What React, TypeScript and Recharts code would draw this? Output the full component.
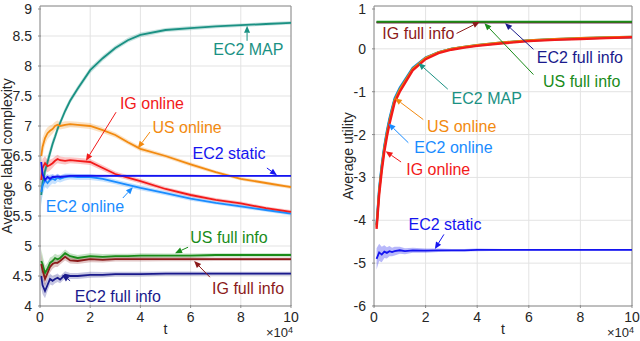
import React from 'react';
import {
  ComposedChart, Line, Area, XAxis, YAxis, CartesianGrid,
  ReferenceLine, ReferenceDot, ReferenceArea,
} from 'recharts';

const FONT = '"Liberation Sans", Arial, Helvetica, sans-serif';

// time, in units of 1e4
const T = [0.05, 0.1, 0.2, 0.3, 0.4, 0.5, 0.6, 0.7, 0.8, 1, 1.2, 1.5, 2, 2.5, 3, 3.5, 4, 5, 6, 7, 8, 9, 10];
const X_TICKS = [0, 2, 4, 6, 8, 10];
const Y_TICKS_L = [4, 4.5, 5, 5.5, 6, 6.5, 7, 7.5, 8, 8.5, 9];
const Y_TICKS_R = [-6, -5, -4, -3, -2, -1, 0, 1];

// left panel: average label complexity
const EC2_MAP_L = [5.85, 6.05, 6.25, 6.4, 6.55, 6.7, 6.82, 6.95, 7.05, 7.25, 7.42, 7.62, 7.93, 8.13, 8.3, 8.43, 8.52, 8.6, 8.63, 8.66, 8.68, 8.7, 8.72];
const US_ONLINE_L = [6.5, 6.65, 6.8, 6.88, 6.92, 6.95, 7.0, 7.02, 7.0, 7.02, 7.03, 7.02, 7.0, 6.93, 6.85, 6.73, 6.62, 6.5, 6.36, 6.23, 6.12, 6.05, 5.98];
const IG_ONLINE_L = [6.1, 6.3, 6.38, 6.33, 6.35, 6.38, 6.42, 6.45, 6.43, 6.42, 6.43, 6.42, 6.4, 6.3, 6.2, 6.14, 6.08, 5.95, 5.85, 5.77, 5.71, 5.63, 5.57];
const EC2_ONLINE_L = [5.9, 6.0, 6.1, 6.05, 6.1, 6.12, 6.1, 6.14, 6.12, 6.15, 6.16, 6.15, 6.15, 6.12, 6.07, 6.02, 5.97, 5.88, 5.79, 5.72, 5.66, 5.6, 5.54];
const EC2_STATIC_L = [6.4, 6.2, 6.1, 6.15, 6.12, 6.15, 6.15, 6.16, 6.15, 6.16, 6.17, 6.17, 6.17, 6.17, 6.17, 6.17, 6.17, 6.17, 6.17, 6.17, 6.17, 6.17, 6.17];
const US_FULL_L = [4.75, 4.7, 4.55, 4.62, 4.72, 4.75, 4.8, 4.78, 4.8, 4.88, 4.83, 4.8, 4.83, 4.82, 4.83, 4.83, 4.84, 4.84, 4.84, 4.85, 4.85, 4.85, 4.85];
const IG_FULL_L = [4.7, 4.6, 4.45, 4.55, 4.65, 4.7, 4.72, 4.72, 4.75, 4.82, 4.76, 4.75, 4.78, 4.77, 4.78, 4.78, 4.78, 4.78, 4.78, 4.78, 4.78, 4.78, 4.78];
const EC2_FULL_L = [4.5, 4.35, 4.25, 4.35, 4.45, 4.42, 4.45, 4.47, 4.44, 4.52, 4.5, 4.5, 4.52, 4.52, 4.53, 4.53, 4.53, 4.54, 4.54, 4.54, 4.54, 4.54, 4.54];
const SPREAD_L = [0.2, 0.15, 0.12, 0.1, 0.09, 0.08, 0.07, 0.07, 0.06, 0.06, 0.05, 0.05, 0.05, 0.045, 0.04, 0.04, 0.04, 0.035, 0.035, 0.03, 0.03, 0.03, 0.03];

// right panel: average utility
const IG_ONLINE_R = [null, -4.2, -3.4, -2.85, -2.4, -2.05, -1.75, -1.5, -1.25, -1.0, -0.8, -0.5, -0.24, -0.1, -0.02, 0.03, 0.07, 0.13, 0.18, 0.21, 0.23, 0.25, 0.27];
const US_ONLINE_R = [null, -4.15, -3.33, -2.78, -2.33, -1.98, -1.69, -1.44, -1.2, -0.95, -0.76, -0.47, -0.21, -0.08, 0.0, 0.05, 0.09, 0.15, 0.2, 0.23, 0.25, 0.27, 0.28];
const EC2_ONLINE_R = [null, -4.1, -3.25, -2.7, -2.26, -1.91, -1.62, -1.38, -1.15, -0.9, -0.72, -0.44, -0.2, -0.08, 0.0, 0.04, 0.08, 0.14, 0.19, 0.22, 0.24, 0.26, 0.27];
const EC2_MAP_R = [null, -4.12, -3.3, -2.74, -2.3, -1.95, -1.66, -1.41, -1.18, -0.93, -0.74, -0.46, -0.21, -0.08, 0.0, 0.05, 0.09, 0.15, 0.2, 0.23, 0.25, 0.27, 0.28];
const US_FULL_R = [null, 0.63, 0.63, 0.63, 0.63, 0.63, 0.63, 0.63, 0.63, 0.63, 0.63, 0.63, 0.63, 0.63, 0.63, 0.63, 0.63, 0.63, 0.63, 0.63, 0.63, 0.63, 0.63];
const IG_FULL_R = [null, 0.62, 0.62, 0.62, 0.62, 0.62, 0.62, 0.62, 0.62, 0.62, 0.62, 0.62, 0.62, 0.62, 0.62, 0.62, 0.62, 0.62, 0.62, 0.62, 0.62, 0.62, 0.62];
const EC2_FULL_R = [null, 0.62, 0.62, 0.62, 0.62, 0.62, 0.62, 0.62, 0.62, 0.62, 0.62, 0.62, 0.62, 0.62, 0.62, 0.62, 0.62, 0.62, 0.62, 0.62, 0.62, 0.62, 0.62];
const EC2_STATIC_R = [null, -4.9, -4.75, -4.8, -4.73, -4.76, -4.72, -4.74, -4.72, -4.7, -4.72, -4.7, -4.71, -4.7, -4.7, -4.7, -4.69, -4.69, -4.69, -4.69, -4.69, -4.69, -4.69];
const SPREAD_R = [null, 0.25, 0.2, 0.18, 0.15, 0.13, 0.12, 0.1, 0.1, 0.08, 0.07, 0.06, 0.05, 0.04, 0.03, 0.03, 0.03, 0.02, 0.02, 0.02, 0.02, 0.02, 0.02];

const C = {
  map: '#1a9183',
  usOn: '#f28a10',
  igOn: '#f21a1a',
  ec2On: '#1a8cff',
  ec2St: '#1414f0',
  usFull: '#1a8c1a',
  igFull: '#8c1a1a',
  ec2Full: '#1a1a8c',
};

// annotations: text position and arrow (from -> tip), in data coords
const NOTES_L = [
  { text: 'EC2 MAP', color: C.map, at: [8.3, 8.27], from: [8.25, 8.42], to: [8.25, 8.67] },
  { text: 'IG online', color: C.igOn, at: [4.46, 7.37], from: [3.03, 7.23], to: [1.83, 6.42] },
  { text: 'US online', color: C.usOn, at: [5.86, 6.98], from: [4.38, 6.9], to: [3.9, 6.63] },
  { text: 'EC2 static', color: C.ec2St, at: [7.53, 6.55], from: [9.04, 6.3], to: [9.44, 6.18] },
  { text: 'EC2 online', color: C.ec2On, at: [1.79, 5.66], from: [3.3, 5.8], to: [3.7, 5.98] },
  { text: 'US full info', color: C.usFull, at: [7.53, 5.15], from: [5.9, 4.98], to: [5.38, 4.88] },
  { text: 'IG full info', color: C.igFull, at: [8.29, 4.3], from: [6.77, 4.48], to: [6.14, 4.75] },
  { text: 'EC2 full info', color: C.ec2Full, at: [3.1, 4.16], from: [1.2, 4.42], to: [0.88, 4.52] },
];

const NOTES_R = [
  { text: 'IG full info', color: C.igFull, at: [1.72, 0.36], from: [3.2, 0.36], to: [4.1, 0.63] },
  { text: 'EC2 full info', color: C.ec2Full, at: [7.98, -0.19], from: [6.18, -0.01], to: [5.08, 0.6] },
  { text: 'US full info', color: C.usFull, at: [8.05, -0.76], from: [6.18, -0.6], to: [4.28, 0.6] },
  { text: 'EC2 MAP', color: C.map, at: [4.37, -1.15], from: [2.86, -0.94], to: [1.72, -0.33] },
  { text: 'US online', color: C.usOn, at: [3.4, -1.81], from: [1.91, -1.65], to: [0.81, -1.15] },
  { text: 'EC2 online', color: C.ec2On, at: [3.08, -2.31], from: [1.33, -2.19], to: [0.56, -1.74] },
  { text: 'IG online', color: C.igOn, at: [2.49, -2.81], from: [1.05, -2.64], to: [0.45, -2.39] },
  { text: 'EC2 static', color: C.ec2St, at: [2.75, -4.09], from: [2.71, -4.33], to: [2.36, -4.67] },
];

const band = (v: number | null, s: number | null) => (v == null || s == null ? null : [v - s, v + s]);

const leftData = T.map((t, i) => ({
  t,
  map: EC2_MAP_L[i], mapB: band(EC2_MAP_L[i], SPREAD_L[i]),
  usOn: US_ONLINE_L[i], usOnB: band(US_ONLINE_L[i], SPREAD_L[i]),
  igOn: IG_ONLINE_L[i], igOnB: band(IG_ONLINE_L[i], SPREAD_L[i]),
  ec2On: EC2_ONLINE_L[i], ec2OnB: band(EC2_ONLINE_L[i], SPREAD_L[i]),
  ec2St: EC2_STATIC_L[i], ec2StB: band(EC2_STATIC_L[i], SPREAD_L[i] * 0.5),
  usFull: US_FULL_L[i], usFullB: band(US_FULL_L[i], SPREAD_L[i]),
  igFull: IG_FULL_L[i], igFullB: band(IG_FULL_L[i], SPREAD_L[i]),
  ec2Full: EC2_FULL_L[i], ec2FullB: band(EC2_FULL_L[i], SPREAD_L[i]),
}));

const rightData = T.map((t, i) => ({
  t,
  map: EC2_MAP_R[i],
  usOn: US_ONLINE_R[i],
  igOn: IG_ONLINE_R[i],
  ec2On: EC2_ONLINE_R[i],
  ec2St: EC2_STATIC_R[i], ec2StB: band(EC2_STATIC_R[i], SPREAD_R[i]),
  usFull: US_FULL_R[i],
  igFull: IG_FULL_R[i],
  ec2Full: EC2_FULL_R[i],
}));

const AXIS = '#8c8c8c';
const TEXT = '#262626';

const XTick = ({ x, y, payload }: any) => (
  <g>
    <line x1={x} x2={x} y1={y} y2={y - 3} stroke={AXIS} />
    <text x={x} y={y + 14} textAnchor="middle" fontSize={14} fill={TEXT} fontFamily={FONT}>
      {payload.value}
    </text>
  </g>
);

const YTick = ({ x, y, payload }: any) => (
  <g>
    <line x1={x} x2={x + 3} y1={y} y2={y} stroke={AXIS} />
    <text x={x - 6} y={y} textAnchor="end" dominantBaseline="central" fontSize={14} fill={TEXT} fontFamily={FONT}>
      {payload.value}
    </text>
  </g>
);

const xLabel = ({ viewBox }: any) => {
  const { x, y, width } = viewBox;
  return (
    <g fontFamily={FONT} fill={TEXT}>
      <text x={x + width / 2} y={y + 28} textAnchor="middle" fontSize={14}>t</text>
      <text x={x + width + 2} y={y + 31} textAnchor="end" fontSize={13}>
        ×10<tspan dy={-4} fontSize={9}>4</tspan>
      </text>
    </g>
  );
};

const yLabel = (title: string, dx: number) => ({ viewBox }: any) => {
  const { x, y, height } = viewBox;
  const cx = x + dx;
  const cy = y + height / 2;
  return (
    <text
      transform={`translate(${cx},${cy}) rotate(-90)`}
      textAnchor="middle"
      dominantBaseline="central"
      fontSize={14}
      fill={TEXT}
      fontFamily={FONT}
    >
      {title}
    </text>
  );
};

const arrowShape = (color: string) => (p: any) => {
  const { x1, y1, x2, y2 } = p;
  const a = Math.atan2(y2 - y1, x2 - x1);
  const L = 7;
  const W = 3;
  const bx = x2 - L * Math.cos(a);
  const by = y2 - L * Math.sin(a);
  const pts = `${x2},${y2} ${bx - W * Math.sin(a)},${by + W * Math.cos(a)} ${bx + W * Math.sin(a)},${by - W * Math.cos(a)}`;
  return (
    <g>
      <line x1={x1} y1={y1} x2={bx} y2={by} stroke={color} strokeWidth={1} />
      <polygon points={pts} fill={color} />
    </g>
  );
};

const textShape = (text: string, color: string) => (p: any) => (
  <text
    x={p.cx}
    y={p.cy}
    textAnchor="middle"
    dominantBaseline="central"
    fontSize={16}
    fill={color}
    fontFamily={FONT}
  >
    {text}
  </text>
);

const renderNotes = (notes: typeof NOTES_L, prefix: string) =>
  notes.flatMap((n, i) => [
    <ReferenceLine
      key={`${prefix}a${i}`}
      segment={[{ x: n.from[0], y: n.from[1] }, { x: n.to[0], y: n.to[1] }]}
      stroke={n.color}
      ifOverflow="visible"
      shape={arrowShape(n.color)}
    />,
    <ReferenceDot
      key={`${prefix}t${i}`}
      x={n.at[0]}
      y={n.at[1]}
      r={0}
      ifOverflow="visible"
      shape={textShape(n.text, n.color)}
    />,
  ]);

const bandArea = (key: string, color: string, opacity = 0.25) => (
  <Area
    key={key}
    dataKey={key}
    type="linear"
    stroke="none"
    fill={color}
    fillOpacity={opacity}
    isAnimationActive={false}
    connectNulls
    activeDot={false}
  />
);

const line = (key: string, color: string, width = 1.8) => (
  <Line
    key={key}
    dataKey={key}
    type="linear"
    stroke={color}
    strokeWidth={width}
    dot={false}
    activeDot={false}
    isAnimationActive={false}
    connectNulls
  />
);

function LeftPanel() {
  return (
    <ComposedChart width={320} height={341} data={leftData} margin={{ top: 6, right: 29, bottom: 0, left: 0 }}>
      <CartesianGrid stroke="#e3e3e3" />
      <XAxis
        dataKey="t"
        type="number"
        domain={[0, 10]}
        ticks={X_TICKS}
        height={35}
        axisLine={false}
        tickLine={false}
        tickSize={0}
        tick={<XTick />}
        label={{ content: xLabel }}
      />
      <YAxis
        type="number"
        domain={[4, 9]}
        ticks={Y_TICKS_L}
        width={40}
        axisLine={false}
        tickLine={false}
        tickSize={0}
        tick={<YTick />}
        allowDataOverflow
        label={{ content: yLabel('Average label complexity', 7) }}
      />
      {bandArea('mapB', C.map)}
      {bandArea('usOnB', C.usOn)}
      {bandArea('igOnB', C.igOn)}
      {bandArea('ec2OnB', C.ec2On)}
      {bandArea('ec2StB', C.ec2St)}
      {bandArea('usFullB', C.usFull)}
      {bandArea('igFullB', C.igFull)}
      {bandArea('ec2FullB', C.ec2Full)}
      {line('map', C.map)}
      {line('usOn', C.usOn)}
      {line('ec2On', C.ec2On)}
      {line('igOn', C.igOn)}
      {line('ec2St', C.ec2St)}
      {line('usFull', C.usFull)}
      {line('igFull', C.igFull)}
      {line('ec2Full', C.ec2Full)}
      <ReferenceArea x1={0} x2={10} y1={4} y2={9} fill="none" stroke={AXIS} strokeWidth={1} ifOverflow="visible" />
      {renderNotes(NOTES_L, 'l')}
    </ComposedChart>
  );
}

function RightPanel() {
  return (
    <ComposedChart width={320} height={341} data={rightData} margin={{ top: 6, right: 8, bottom: 0, left: 0 }}>
      <CartesianGrid stroke="#e3e3e3" />
      <XAxis
        dataKey="t"
        type="number"
        domain={[0, 10]}
        ticks={X_TICKS}
        height={35}
        axisLine={false}
        tickLine={false}
        tickSize={0}
        tick={<XTick />}
        label={{ content: xLabel }}
      />
      <YAxis
        type="number"
        domain={[-6, 1]}
        ticks={Y_TICKS_R}
        width={54}
        axisLine={false}
        tickLine={false}
        tickSize={0}
        tick={<YTick />}
        allowDataOverflow
        label={{ content: yLabel('Average utility', 28) }}
      />
      {bandArea('ec2StB', C.ec2St, 0.3)}
      {line('ec2Full', C.ec2Full)}
      {line('igFull', C.igFull)}
      {line('usFull', C.usFull, 2)}
      {line('ec2St', C.ec2St)}
      {line('ec2On', C.ec2On, 2.2)}
      {line('map', C.map, 2.2)}
      {line('usOn', C.usOn, 2.2)}
      {line('igOn', C.igOn, 2.4)}
      <ReferenceArea x1={0} x2={10} y1={-6} y2={1} fill="none" stroke={AXIS} strokeWidth={1} ifOverflow="visible" />
      {renderNotes(NOTES_R, 'r')}
    </ComposedChart>
  );
}

export default function App() {
  return (
    <div style={{ position: 'absolute', left: 0, top: 0, width: 640, height: 341, background: '#fff', fontFamily: FONT }}>
      <div style={{ position: 'absolute', left: 0, top: 0 }}>
        <LeftPanel />
      </div>
      <div style={{ position: 'absolute', left: 320, top: 0 }}>
        <RightPanel />
      </div>
    </div>
  );
}
